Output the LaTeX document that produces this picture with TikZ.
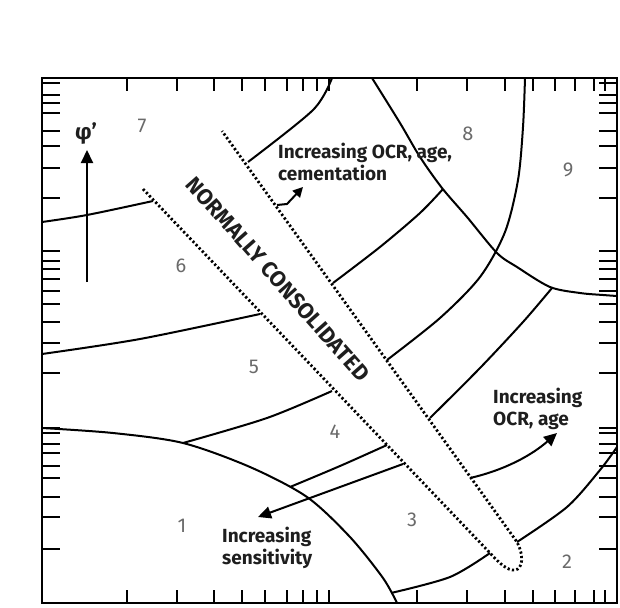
\documentclass[tikz,border=0pt]{standalone}
\usepackage{fontspec}
\setmainfont{Fira Sans}
\usetikzlibrary{arrows.meta}
\definecolor{zoneGray}{HTML}{6A6A6A}
\definecolor{labelInk}{HTML}{1E1E1E}

\begin{document}
\begin{tikzpicture}[x=1pt,y=-1pt,
  boundary/.style={line width=2pt},
  ncband/.style={line width=2.8pt,dash pattern=on 2.2pt off 2.3pt},
  tickmark/.style={line width=2pt},
  zone/.style={text=zoneGray,font=\fontsize{20}{20}\selectfont},
  trend/.style={text=labelInk,font=\bfseries\fontsize{19}{22}\selectfont,
                align=left,anchor=west,inner sep=0pt},
  trendarrow/.style={line width=2pt,-{Triangle[length=13pt,width=12pt]}}]
\useasboundingbox (0,0) rectangle (620,607);

% frame with log scale ticks
\draw[line width=2.6pt] (42,78) rectangle (617,603);
\foreach \tx in {127,177,214,242,265,287,303,317,329,417,467,505,533,555,575,594,605}
  {\draw[tickmark] (\tx,78) -- ++(0,13);
   \draw[tickmark] (\tx,603) -- ++(0,-13);}
\foreach \ty in {83,95,103,113,131,146,168,198,251,261,269,279,291,304,322,343,373,
                 428,433,444,453,466,478,497,517,549}
  {\draw[tickmark] (42,\ty) -- ++(18,0);
   \draw[tickmark] (617,\ty) -- ++(-18,0);}

% zone boundaries
\draw[boundary] plot[smooth] coordinates {(42,222) (87,215) (153,201)};
\draw[boundary] plot[smooth] coordinates {(248,162) (313,110) (332,78)};
\draw[boundary] plot[smooth] coordinates {(42,354) (140,339) (260,314)};
\draw[boundary] plot[smooth] coordinates {(333,283) (380,247) (420,213) (443,189)};
\draw[boundary] plot[smooth] coordinates {(183,443) (267,418) (332,391)};
\draw[boundary] plot[smooth] coordinates {(387,360) (440,318) (480,277) (505,232)
  (518,180) (523,127) (525,78)};
\draw[boundary] plot[smooth] coordinates {(372,78) (400,123) (420,157) (442,188)
  (467,217) (497,253) (517,267) (550,287) (580,293) (603,295) (617,296)};
\draw[boundary] plot[smooth] coordinates {(290,487) (340,466) (387,445)};
\draw[boundary] plot[smooth] coordinates {(430,418) (480,368) (523,322) (552,288)};
\draw[boundary] plot[smooth] coordinates {(42,428) (113,433) (183,443) (250,467)
  (307,497) (350,537) (383,578) (397,603)};
\draw[boundary] plot[smooth] coordinates {(391,593) (450,577) (490,553)};
\draw[boundary] plot[smooth] coordinates {(517,542) (567,507) (600,470) (617,447)};

% normally consolidated band
\draw[ncband] (143,189) -- (490,553) .. controls (500,564) and (508,571) .. (515,570)
  .. controls (523,569) and (524,555) .. (517,542) -- (222,131);
\node[text=labelInk,font=\bfseries\fontsize{22}{22}\selectfont,rotate=-48.5] (nc)
  at (278,279) {NORMALLY CONSOLIDATED};

% zones
\node[zone] (z1) at (182,526) {1};
\node[zone] (z2) at (567,562) {2};
\node[zone] (z3) at (412,520) {3};
\node[zone] (z4) at (335,432) {4};
\node[zone] (z5) at (254,367) {5};
\node[zone] (z6) at (181,266) {6};
\node[zone] (z7) at (142,126) {7};
\node[zone] (z8) at (468,134) {8};
\node[zone] (z9) at (568,170) {9};

% trends
\node[text=labelInk,font=\bfseries\fontsize{22}{22}\selectfont] (phi) at (86,134) {φ’};
\coordinate (phiTail) at (87,282);
\coordinate (phiTip) at (87,150);
\draw[trendarrow] (phiTail) -- (phiTip);

\node[trend] (ocrCem) at (278,162) {Increasing OCR, age,\\cementation};
\coordinate (cemStart) at (277,205);
\coordinate (cemTip) at (303,187);
\draw[trendarrow,-{Triangle[length=10pt,width=10pt]}] (cemStart) -- ++(10,-1) -- (cemTip);

\node[trend] (ocrAge) at (493,409) {Increasing\\OCR, age};
\coordinate (ageStart) at (470,478);
\coordinate (ageTip) at (557,433);
\draw[trendarrow] (ageStart) .. controls (505,470) and (532,455) .. (ageTip);

\node[trend] (sens) at (222,548) {Increasing\\sensitivity};
\coordinate (sensStart) at (403,464);
\coordinate (sensTip) at (258,517);
\draw[trendarrow] (sensStart) -- (sensTip);
\end{tikzpicture}
\end{document}
